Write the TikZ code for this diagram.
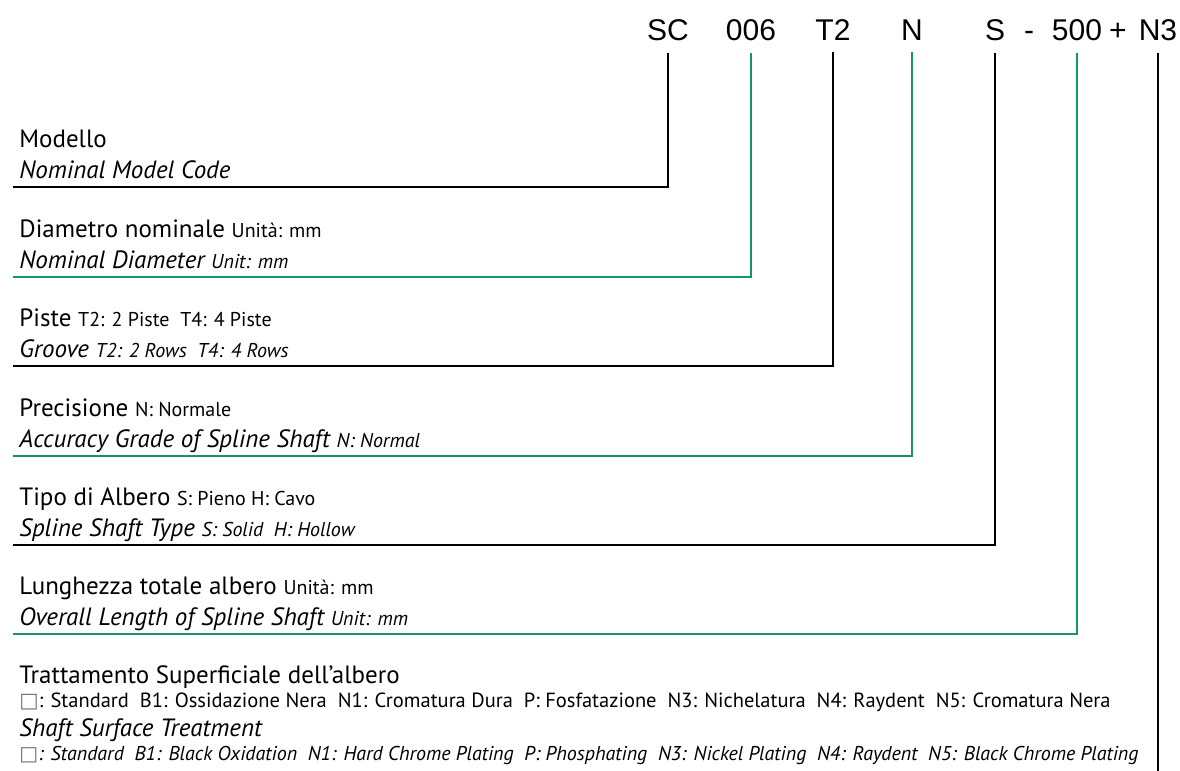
\documentclass[tikz,border=0pt]{standalone}
\usepackage{fontspec}
\setmainfont{PT Sans}
\newfontfamily\codefont{Liberation Sans}
\newfontfamily\boxfont{DejaVu Sans}
\usepackage{tikz}
\usetikzlibrary{positioning}
\definecolor{codegreen}{RGB}{22,150,96}
\newcommand{\mainsz}{\fontsize{12.5}{14}\selectfont}
\newcommand{\smallsz}{\fontsize{10}{12}\selectfont}
\newcommand{\emptybox}{{\boxfont\color{black!55}□}}

\begin{document}
\begin{tikzpicture}[x=0.5pt,y=-0.5pt,
    code/.style={font=\codefont\fontsize{15}{18}\selectfont, anchor=base, inner xsep=0pt, inner ysep=6pt},
    label/.style={anchor=base west, inner sep=0pt, font=\mainsz},
    sub/.style={label, font=\mainsz\itshape},
    blackline/.style={line width=0.75pt, black},
    greenline/.style={line width=0.75pt, codegreen}]
\useasboundingbox (0,0) rectangle (1180,771);
% model code on top
\node[code] (cSC) at (668,40) {SC};
\node[code] (c006) at (751,40) {006};
\node[code] (cT2) at (833,40) {T2};
\node[code] (cN) at (912,40) {N};
\node[code] (cS) at (995,40) {S};
\node[code] (dash) at (1029,40) {-};
\node[code] (c500) at (1077,40) {500};
\node[code] (plus) at (1118,40) {+};
\node[code] (cN3) at (1158,40) {N3};
% descriptions
\node[label] (modello) at (19,147) {Modello};
\node[sub] (modelloEn) at (19,178) {Nominal Model Code};
\node[label] (diametro) at (19,237) {Diametro nominale {\smallsz Unità: mm}};
\node[sub] (diametroEn) at (19,268) {Nominal Diameter {\smallsz Unit: mm}};
\node[label] (piste) at (19,326) {Piste {\smallsz T2: 2 Piste~ T4: 4 Piste}};
\node[sub] (pisteEn) at (19,357) {Groove {\smallsz T2: 2 Rows~ T4: 4 Rows}};
\node[label] (precisione) at (19,416) {Precisione {\smallsz N: Normale}};
\node[sub] (precisioneEn) at (19,447) {Accuracy Grade of Spline Shaft {\smallsz N: Normal}};
\node[label] (tipo) at (19,505) {Tipo di Albero {\smallsz S: Pieno H: Cavo}};
\node[sub] (tipoEn) at (19,536) {Spline Shaft Type {\smallsz S: Solid~ H: Hollow}};
\node[label] (lunghezza) at (19,594) {Lunghezza totale albero {\smallsz Unità: mm}};
\node[sub] (lunghezzaEn) at (19,625) {Overall Length of Spline Shaft {\smallsz Unit: mm}};
\node[label] (trattamento) at (19,683) {Trattamento Superficiale dell’albero};
\node[label, font=\fontsize{10.25}{12}\selectfont] (trattamentoOpt) at (19,707) {\emptybox: Standard~ B1: Ossidazione Nera~ N1: Cromatura Dura~ P: Fosfatazione~ N3: Nichelatura~ N4: Raydent~ N5: Cromatura Nera};
\node[sub] (trattamentoEn) at (19,736) {Shaft Surface Treatment};
\node[label, font=\smallsz\itshape] (trattamentoEnOpt) at (19,760) {\emptybox: Standard~ B1: Black Oxidation~ N1: Hard Chrome Plating~ P: Phosphating~ N3: Nickel Plating~ N4: Raydent~ N5: Black Chrome Plating};
% leader lines
\coordinate (endSC) at (13,187);
\coordinate (end006) at (13,277);
\coordinate (endT2) at (13,366);
\coordinate (endN) at (13,456);
\coordinate (endS) at (13,545);
\coordinate (end500) at (13,634);
\coordinate (endN3) at (1158,771);
\draw[blackline] (cSC.south) |- (endSC);
\draw[greenline] (c006.south) |- (end006);
\draw[blackline] (cT2.south) |- (endT2);
\draw[greenline] (cN.south) |- (endN);
\draw[blackline] (cS.south) |- (endS);
\draw[greenline] (c500.south) |- (end500);
\draw[blackline] (cN3.south) -- (endN3);
\end{tikzpicture}
\end{document}
